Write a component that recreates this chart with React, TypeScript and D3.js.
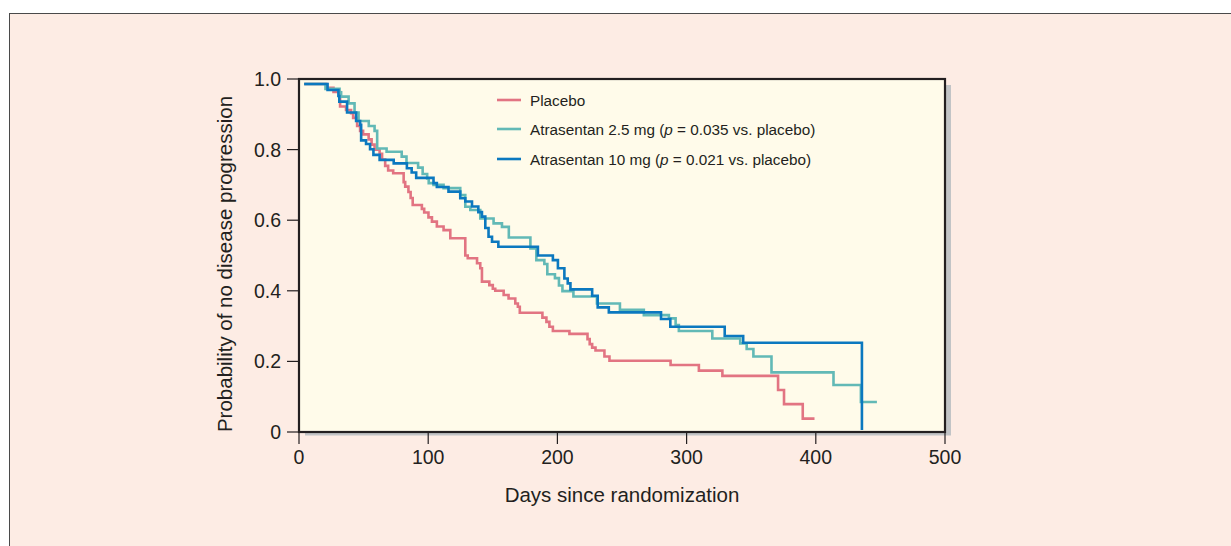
import React from "react";
import * as d3 from "d3";

const xTicks = [0, 100, 200, 300, 400, 500];
const yTicks = [0, 0.2, 0.4, 0.6, 0.8, 1.0];
const yTickLabels = ["0", "0.2", "0.4", "0.6", "0.8", "1.0"];

const placeboDays = [4, 21.7, 26.7, 31.8, 36.4, 40.3, 41.9, 45.0, 47.3, 49.6, 53.9, 56.2, 58.5, 62.4, 64.3, 66.7, 69.0, 72.9, 81.0, 82.2, 84.7, 86.4, 88.0, 95.1, 96.9, 100.2, 102.9, 106.7, 111.9, 117.1, 128.7, 130.6, 137.8, 140.3, 141.6, 147.3, 150.0, 151.9, 158.4, 162.2, 167.4, 169.4, 170.9, 188.4, 191.5, 193.8, 196.5, 209.3, 223.3, 225.0, 226.9, 229.5, 236.4, 240.3, 287.6, 309.5, 327.7, 370.8, 375.4, 389.9, 399.0];
const placeboSurv = [0.986, 0.975, 0.963, 0.922, 0.912, 0.903, 0.890, 0.867, 0.853, 0.843, 0.829, 0.814, 0.800, 0.788, 0.772, 0.754, 0.741, 0.733, 0.708, 0.695, 0.680, 0.663, 0.643, 0.632, 0.622, 0.608, 0.596, 0.582, 0.572, 0.549, 0.500, 0.492, 0.478, 0.464, 0.426, 0.416, 0.406, 0.400, 0.388, 0.378, 0.364, 0.355, 0.338, 0.324, 0.312, 0.298, 0.286, 0.278, 0.263, 0.249, 0.239, 0.231, 0.214, 0.202, 0.190, 0.174, 0.159, 0.119, 0.079, 0.038, 0.038];

const low25Days = [4, 20.5, 31.4, 32.6, 38.4, 43.0, 46.1, 54.0, 58.5, 60.5, 67.8, 79.5, 83.2, 92.2, 95.7, 99.2, 100.4, 104.1, 111.9, 124.8, 128.7, 132.6, 140.3, 150.6, 157.1, 162.4, 179.1, 183.7, 189.9, 192.2, 198.1, 201.2, 203.9, 212.4, 230.6, 248.4, 266.9, 286.3, 291.5, 294.0, 319.9, 341.5, 346.5, 351.7, 365.7, 413.7, 434.9, 447.3];
const low25Surv = [0.986, 0.972, 0.962, 0.950, 0.931, 0.905, 0.881, 0.867, 0.853, 0.803, 0.794, 0.780, 0.762, 0.749, 0.731, 0.718, 0.705, 0.700, 0.691, 0.671, 0.638, 0.629, 0.605, 0.591, 0.581, 0.551, 0.520, 0.487, 0.476, 0.447, 0.436, 0.415, 0.399, 0.384, 0.364, 0.346, 0.331, 0.322, 0.303, 0.286, 0.265, 0.251, 0.235, 0.214, 0.169, 0.133, 0.085, 0.085];

const high10Days = [4, 22.1, 30.5, 31.2, 37.2, 44.2, 47.3, 48.1, 51.9, 55.0, 57.6, 62.4, 73.3, 83.5, 87.2, 90.7, 104.1, 106.7, 115.7, 124.8, 128.7, 133.9, 138.8, 141.6, 144.2, 146.7, 149.4, 154.3, 184.9, 196.5, 200.4, 205.4, 208.0, 210.1, 226.9, 231.2, 239.8, 280.2, 287.4, 329.5, 343.8, 435.7];
const high10Surv = [0.986, 0.969, 0.952, 0.936, 0.905, 0.881, 0.870, 0.826, 0.816, 0.801, 0.785, 0.771, 0.761, 0.747, 0.735, 0.720, 0.705, 0.694, 0.681, 0.662, 0.653, 0.639, 0.623, 0.610, 0.578, 0.553, 0.539, 0.525, 0.500, 0.487, 0.464, 0.435, 0.421, 0.404, 0.386, 0.353, 0.339, 0.320, 0.298, 0.272, 0.253, 0.006];

const seriesNames = ["Placebo", "Atrasentan 2.5 mg", "Atrasentan 10 mg"];
const seriesP = ["", "0.035", "0.021"];
const seriesColors = ["#e27482", "#62b9b6", "#0b78bf"];

const W = 1231;
const H = 546;
const L = 299, R = 945, T = 79, B = 432;
const ink = "#231f20";
const font = "'Liberation Sans', Arial, Helvetica, sans-serif";

export default function App() {
  const x = d3.scaleLinear().domain([0, 500]).range([L, R]);
  const y = d3.scaleLinear().domain([0, 1]).range([B, T]);
  const line = d3
    .line<[number, number]>()
    .x((d) => x(d[0]))
    .y((d) => y(d[1]))
    .curve(d3.curveStepAfter);

  const series = [
    { days: placeboDays, surv: placeboSurv },
    { days: low25Days, surv: low25Surv },
    { days: high10Days, surv: high10Surv },
  ];

  const legendY = [100, 129, 159];

  return (
    <svg
      width={W}
      height={H}
      style={{ position: "absolute", left: 0, top: 0, display: "block" }}
      fontFamily={font}
    >
      <rect x={0} y={0} width={W} height={H} fill="#ffffff" />
      <rect x={9.5} y={13.5} width={W + 20} height={H + 20} fill="#fdece4" stroke="#4a4a4a" strokeWidth={1} />
      {/* shadow */}
      <rect x={L + 6} y={T + 6} width={R - L} height={B - T - 2.5} fill="#c2c4c6" />
      <rect x={L} y={T} width={R - L} height={B - T} fill="#fffbea" />

      {series.map((s, i) => (
        <path
          key={i}
          d={line(s.days.map((d, j) => [d, s.surv[j]] as [number, number])) || ""}
          fill="none"
          stroke={seriesColors[i]}
          strokeWidth={2.6}
          strokeLinejoin="miter"
        />
      ))}

      <rect x={L} y={T} width={R - L} height={B - T} fill="none" stroke={ink} strokeWidth={2.2} />

      {yTicks.map((t, i) => (
        <g key={"y" + i}>
          <line x1={L - 12} x2={L} y1={y(t)} y2={y(t)} stroke={ink} strokeWidth={1.2} />
          <text x={L - 18} y={y(t)} dy="0.36em" textAnchor="end" fontSize={19.5} fill={ink}>
            {yTickLabels[i]}
          </text>
        </g>
      ))}
      {xTicks.map((t, i) => (
        <g key={"x" + i}>
          <line x1={x(t)} x2={x(t)} y1={B} y2={B + 12} stroke={ink} strokeWidth={1.2} />
          <text x={x(t)} y={B + 32} textAnchor="middle" fontSize={19.5} fill={ink}>
            {String(t)}
          </text>
        </g>
      ))}

      <text x={622} y={502} textAnchor="middle" fontSize={20.5} fill={ink}>
        Days since randomization
      </text>
      <text
        transform={`translate(232, 264) rotate(-90)`}
        textAnchor="middle"
        fontSize={20.5}
        fill={ink}
      >
        Probability of no disease progression
      </text>

      {seriesNames.map((n, i) => (
        <g key={"lg" + i}>
          <line x1={497} x2={521} y1={legendY[i]} y2={legendY[i]} stroke={seriesColors[i]} strokeWidth={2.6} />
          <text x={530} y={legendY[i] + 5.5} fontSize={15.3} fill={ink}>
            {n}
            {seriesP[i] ? (
              <>
                {" ("}
                <tspan fontStyle="italic">p</tspan>
                {` = ${seriesP[i]} vs. placebo)`}
              </>
            ) : null}
          </text>
        </g>
      ))}
    </svg>
  );
}
